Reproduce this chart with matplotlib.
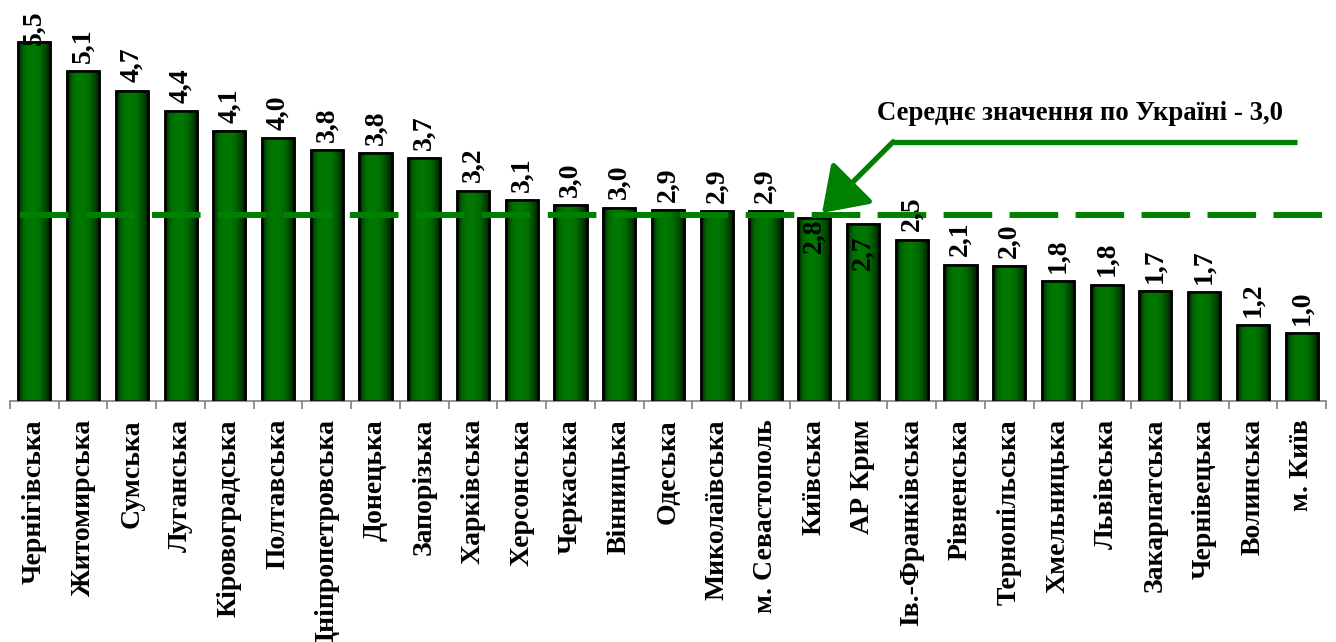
import matplotlib
matplotlib.use("Agg")
import matplotlib.pyplot as plt
import numpy as np
from matplotlib.colors import LinearSegmentedColormap
from matplotlib.patches import FancyArrowPatch

regions = ["Чернігівська", "Житомирська", "Сумська", "Луганська", "Кіровоградська",
           "Полтавська", "Дніпропетровська", "Донецька", "Запорізька", "Харківська",
           "Херсонська", "Черкаська", "Вінницька", "Одеська", "Миколаївська",
           "м. Севастополь", "Київська", "АР Крим", "Ів.-Франківська", "Рівненська",
           "Тернопільська", "Хмельницька", "Львівська", "Закарпатська", "Чернівецька",
           "Волинська", "м. Київ"]
values = [5.50, 5.05, 4.75, 4.44, 4.13, 4.02, 3.84, 3.80, 3.72, 3.22, 3.08, 3.00, 2.96,
          2.92, 2.91, 2.91, 2.80, 2.71, 2.47, 2.09, 2.06, 1.84, 1.78, 1.68, 1.67, 1.16, 1.04]
value_labels = ["5,5", "5,1", "4,7", "4,4", "4,1", "4,0", "3,8", "3,8", "3,7", "3,2",
                "3,1", "3,0", "3,0", "2,9", "2,9", "2,9", "2,8", "2,7", "2,5", "2,1",
                "2,0", "1,8", "1,8", "1,7", "1,7", "1,2", "1,0"]
mean_text = "Середнє значення по Україні - 3,0"
mean_line_level = 2.85

# label offsets in points (style tweaks for readability)
label_offsets = {0: -2, 16: 0, 17: -8}

plt.rcParams['font.family'] = ['Liberation Serif', 'DejaVu Serif']
plt.rcParams['font.weight'] = 'bold'
plt.rcParams['lines.scale_dashes'] = False

W, H, DPI = 1336, 642, 100
fig = plt.figure(figsize=(W / DPI, H / DPI), dpi=DPI)
ax = fig.add_axes([10 / W, 241 / H, 1316 / W, 401 / H])

FS = 20

n = len(values)
x = np.arange(n)
bw = 0.66
bars = ax.bar(x, values, width=bw, color='#006a00', edgecolor='black', linewidth=1.8, zorder=2)

cmap = LinearSegmentedColormap.from_list(
    'g', ['#002400', '#006800', '#007800', '#007800', '#006c00', '#004c00', '#001c00'])
grad = np.linspace(0, 1, 64).reshape(1, -1)
for b in bars:
    im = ax.imshow(grad, cmap=cmap, aspect='auto', zorder=2.5,
                   extent=(b.get_x(), b.get_x() + b.get_width(), 0, b.get_height()))
    im.set_clip_path(b)
for b in bars:
    ax.add_patch(plt.Rectangle((b.get_x(), 0), b.get_width(), b.get_height(),
                               fill=False, edgecolor='black', linewidth=1.8, zorder=3))

ax.set_xlim(-0.5, n - 0.5)
ax.set_ylim(0, 401 / 65.3)

# mean dashed line
ax.plot([-0.29, n - 0.52], [mean_line_level] * 2, color='#008000', linewidth=4.3,
        linestyle=(0, (35, 12.5)), solid_capstyle='butt', zorder=4)

# value labels
for i, (v, lab) in enumerate(zip(values, value_labels)):
    off = label_offsets.get(i, 6)
    va = 'bottom' if off > 0 else 'top'
    if i == 0:
        va = 'bottom'
    ax.annotate(lab, xy=(i, v), xytext=(0, off), textcoords='offset points',
                rotation=90, ha='center', va=va, fontsize=FS, fontweight='bold',
                color='black', zorder=6, annotation_clip=False)

# annotation
ax.plot([25.9, 17.62], [3.97, 3.97], color='#008000', linewidth=3.8,
        solid_capstyle='butt', zorder=4)
arr = FancyArrowPatch((17.62, 3.97), (16.16, 2.88), arrowstyle='-|>,head_length=0.95,head_width=0.65',
                      mutation_scale=28, color='#008000', linewidth=3.8, zorder=5,
                      shrinkA=0, shrinkB=0)
ax.add_patch(arr)
ax.text(21.45, 4.41, mean_text, ha='center', va='center', fontsize=19.3,
        fontweight='bold', zorder=6)

# axes styling
for s in ['top', 'right', 'left']:
    ax.spines[s].set_visible(False)
ax.spines['bottom'].set_color('#808080')
ax.spines['bottom'].set_linewidth(1.2)
ax.set_yticks([])
ax.set_xticks(x)
ax.set_xticklabels(regions, rotation=90, fontsize=FS, fontweight='bold')
ax.tick_params(axis='x', which='major', length=0, pad=13)
ax.set_xticks(np.arange(-0.5, n, 1.0), minor=True)
ax.tick_params(axis='x', which='minor', length=6, color='#808080', width=1.2)

fig.savefig('out.png', dpi=DPI)
